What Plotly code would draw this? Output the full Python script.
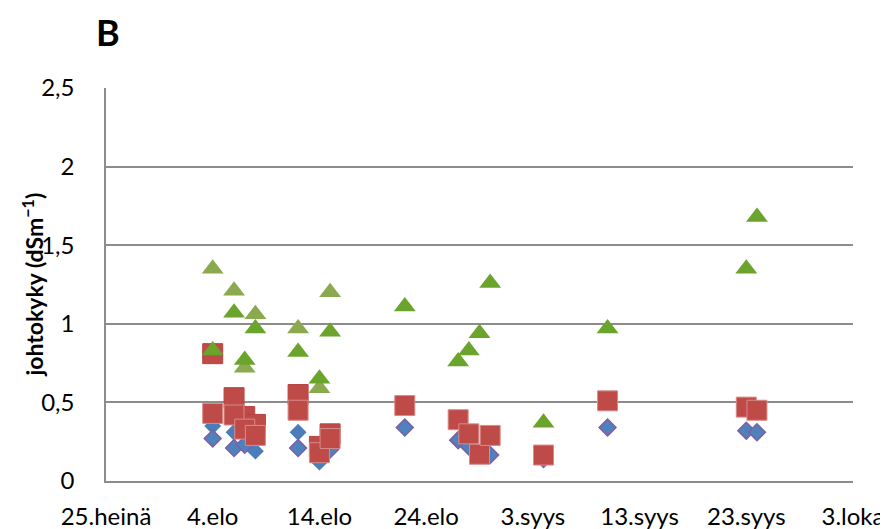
import plotly.graph_objects as go

# ---- data ----
blue1_dates = ["2013-08-04", "2013-08-06", "2013-08-07", "2013-08-12", "2013-08-15",
               "2013-08-22", "2013-08-27", "2013-08-28", "2013-08-30",
               "2013-09-04", "2013-09-10", "2013-09-23", "2013-09-24"]
blue1_vals = [0.27, 0.21, 0.23, 0.21, 0.20, 0.34, 0.26, 0.22, 0.165, 0.14, 0.34, 0.32, 0.31]

blue2_dates = ["2013-08-04", "2013-08-06", "2013-08-08", "2013-08-12", "2013-08-14"]
blue2_vals = [0.35, 0.31, 0.19, 0.31, 0.12]

red2_dates = ["2013-08-04", "2013-08-06", "2013-08-07", "2013-08-08", "2013-08-12",
              "2013-08-14", "2013-08-15"]
red2_vals = [0.81, 0.53, 0.41, 0.36, 0.55, 0.22, 0.30]

red1_dates = ["2013-08-04", "2013-08-06", "2013-08-07", "2013-08-08", "2013-08-12",
              "2013-08-14", "2013-08-15", "2013-08-22", "2013-08-27", "2013-08-28",
              "2013-08-29", "2013-08-30", "2013-09-04", "2013-09-10", "2013-09-23",
              "2013-09-24"]
red1_vals = [0.43, 0.42, 0.33, 0.29, 0.45, 0.18, 0.27, 0.48, 0.39, 0.30,
             0.17, 0.29, 0.165, 0.51, 0.47, 0.45]

olive_dates = ["2013-08-04", "2013-08-06", "2013-08-07", "2013-08-08", "2013-08-12",
               "2013-08-14", "2013-08-15"]
olive_vals = [1.35, 1.21, 0.72, 1.06, 0.97, 0.59, 1.20]

green_dates = ["2013-08-04", "2013-08-06", "2013-08-07", "2013-08-08", "2013-08-12",
               "2013-08-14", "2013-08-15", "2013-08-22", "2013-08-27", "2013-08-28",
               "2013-08-29", "2013-08-30", "2013-09-04", "2013-09-10", "2013-09-23",
               "2013-09-24"]
green_vals = [0.83, 1.07, 0.77, 0.97, 0.82, 0.65, 0.95, 1.11, 0.76, 0.83,
              0.94, 1.26, 0.37, 0.97, 1.35, 1.68]

x_tickvals = ["2013-07-25", "2013-08-04", "2013-08-14", "2013-08-24", "2013-09-03",
              "2013-09-13", "2013-09-23", "2013-10-03"]
x_ticktext = ["25.heinä", "4.elo", "14.elo", "24.elo", "3.syys", "13.syys", "23.syys", "3.loka"]
y_tickvals = [0, 0.5, 1, 1.5, 2, 2.5]
y_ticktext = ["0", "0,5", "1", "1,5", "2", "2,5"]

FONT = "Lato"
GRID = "#8C8C8C"
# the page body has an 8px margin, so the figure is sized to fill the rest of the window
W, H = 880, 521
ML, MR, MT, MB = 98, 35, 80, 48

fig = go.Figure()
fig.add_trace(go.Scatter(x=blue2_dates, y=blue2_vals, mode="markers",
                         marker=dict(symbol="diamond", size=13, color="#4A7DBA",
                                     line=dict(width=0))))
fig.add_trace(go.Scatter(x=blue1_dates, y=blue1_vals, mode="markers",
                         marker=dict(symbol="diamond", size=13, color="#4F81BD",
                                     line=dict(width=1.5, color="#7E5FA2"))))
fig.add_trace(go.Scatter(x=red2_dates, y=red2_vals, mode="markers",
                         marker=dict(symbol="square", size=20, color="#BE4B48",
                                     line=dict(width=1, color="#B84340"))))
fig.add_trace(go.Scatter(x=red1_dates, y=red1_vals, mode="markers",
                         marker=dict(symbol="square", size=20, color="#BE4B48",
                                     line=dict(width=1, color="#D98B89"))))
fig.add_trace(go.Scatter(x=olive_dates, y=olive_vals, mode="markers",
                         marker=dict(symbol="triangle-up", size=19, color="#8BA94E",
                                     line=dict(width=0))))
fig.add_trace(go.Scatter(x=green_dates, y=green_vals, mode="markers",
                         marker=dict(symbol="triangle-up", size=19, color="#6AA42C",
                                     line=dict(width=0))))

fig.update_layout(
    width=W, height=H,
    margin=dict(l=ML, r=MR, t=MT, b=MB, autoexpand=False),
    paper_bgcolor="white", plot_bgcolor="white",
    showlegend=False,
    font=dict(family=FONT, size=24, color="#000000"),
    title=dict(text="<b>B</b>", x=88 / W, xanchor="left", xref="container",
               y=1 - 25 / H, yanchor="middle", yref="container",
               font=dict(family=FONT, size=36, color="#000000")),
    xaxis=dict(type="date", range=["2013-07-25", "2013-10-03"], automargin=False,
               tickmode="array", tickvals=x_tickvals, ticktext=x_ticktext,
               showgrid=False, zeroline=False, showline=True, linecolor=GRID,
               linewidth=1.5, ticks="", ticklabelstandoff=13,
               tickfont=dict(family=FONT, size=24, color="#000000")),
    yaxis=dict(range=[0, 2.5], tickmode="array", tickvals=y_tickvals, ticktext=y_ticktext,
               automargin=False,
               showgrid=True, gridcolor=GRID, gridwidth=1.5, zeroline=False,
               showline=True, linecolor=GRID, linewidth=1.5, ticks="",
               ticklabelstandoff=25,
               tickfont=dict(family=FONT, size=24, color="#000000")),
    annotations=[dict(text="<b>johtokyky (dSm<sup>−1</sup>)</b>", textangle=-90,
                      xref="paper", yref="paper", x=(25 - ML) / (W - ML - MR), y=0.5,
                      xanchor="center", yanchor="middle", showarrow=False,
                      font=dict(family=FONT, size=23, color="#000000"))],
)

fig.write_html("out.html")
